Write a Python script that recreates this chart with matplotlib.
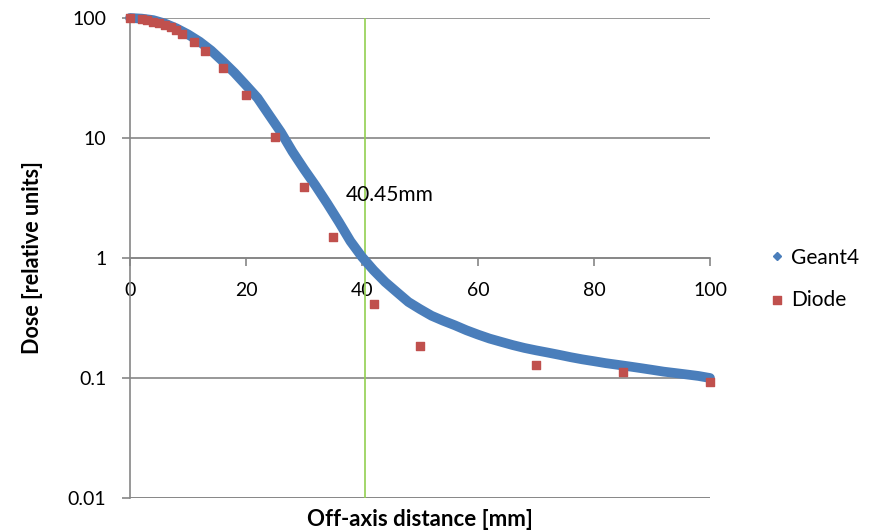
import numpy as np
import matplotlib.pyplot as plt

plt.rcParams['font.family'] = ['Lato', 'DejaVu Sans']

# Geant4 simulated profile
g4_x = [0, 2, 4, 6, 8, 10, 12, 14, 16, 18, 20, 22, 24, 26, 28, 30, 32, 34, 36, 38,
        40, 42, 44, 46, 48, 50, 52, 54, 56, 58, 60, 62, 64, 66, 68, 70, 72, 74, 76,
        78, 80, 82, 84, 86, 88, 90, 92, 94, 96, 98, 100]
g4_y = [100, 98.8, 96, 90, 82, 73, 63.5, 53.5, 43.5, 35, 27.5, 21.5, 15.5, 11.2, 7.7,
        5.5, 4.0, 2.85, 2.0, 1.38, 1.02, 0.79, 0.63, 0.52, 0.43, 0.375, 0.33, 0.3,
        0.275, 0.25, 0.23, 0.213, 0.2, 0.188, 0.178, 0.17, 0.163, 0.156, 0.149, 0.143,
        0.138, 0.133, 0.129, 0.125, 0.121, 0.117, 0.113, 0.11, 0.107, 0.104, 0.10]

# Diode measurements
diode_x = [0, 2, 3, 4, 5, 6, 7, 8, 9, 11, 13, 16, 20, 25, 30, 35, 42, 50, 70, 85, 100]
diode_y = [100, 99, 96, 93, 90, 87, 84, 80, 74, 63.5, 53.4, 38.6, 22.8, 10.1, 3.93,
           1.49, 0.416, 0.184, 0.129, 0.113, 0.0935]

x_ticks = [0, 20, 40, 60, 80, 100]
y_ticks = [0.01, 0.1, 1, 10, 100]
y_labels = ['0.01', '0.1', '1', '10', '100']
cutoff = 40.45

fig = plt.figure(figsize=(8.81, 5.32), dpi=100)
ax = fig.add_axes([0.1476, 0.0639, 0.6583, 0.9023])

ax.plot(g4_x, g4_y, color='#4A7EBB', lw=7, solid_capstyle='round', zorder=3,
        clip_on=False)
ax.plot([], [], ls='none', marker='D', ms=4, color='#4A7EBB', label='Geant4')
ax.scatter(diode_x, diode_y, marker='s', s=36, color='#C0504D', zorder=4,
           clip_on=False, label='Diode')

ax.axvline(cutoff, color='#92D050', lw=1.2, zorder=2)
ax.text(37.2, 3.35, '40.45mm', fontsize=15, va='center', ha='left')

ax.set_yscale('log')
ax.set_ylim(0.01, 100)
ax.set_xlim(0, 100)
ax.set_yticks(y_ticks)
ax.set_yticklabels(y_labels)
ax.minorticks_off()
ax.set_xticks(x_ticks)

ax.grid(axis='y', color='#868686', lw=1.2, zorder=1)
for s in ['top', 'right']:
    ax.spines[s].set_visible(False)
ax.spines['bottom'].set_position(('data', 1))
ax.spines['bottom'].set_color('#868686')
ax.spines['bottom'].set_linewidth(1.2)
ax.spines['left'].set_color('#868686')
ax.spines['left'].set_linewidth(1.2)
ax.axhline(0.01, color='#868686', lw=1.2, zorder=1)

ax.tick_params(axis='y', length=6, width=1.2, color='#868686', pad=11,
               labelsize=14)
ax.tick_params(axis='x', length=6, width=1.2, color='#868686', pad=11,
               labelsize=14)

ax.set_ylabel('Dose [relative units]', fontsize=15.5, fontweight='bold')
ax.yaxis.set_label_coords(-0.15, 0.5)
fig.text(0.477, 0.024, 'Off-axis distance [mm]', fontsize=16, fontweight='bold',
         ha='center', va='center')

ax.legend(loc='center left', bbox_to_anchor=(1.09, 0.457), frameon=False,
          fontsize=15, handlelength=0.6, handletextpad=0.4, labelspacing=1.05,
          borderpad=0.4, borderaxespad=0)

fig.savefig('out.png', dpi=100)
